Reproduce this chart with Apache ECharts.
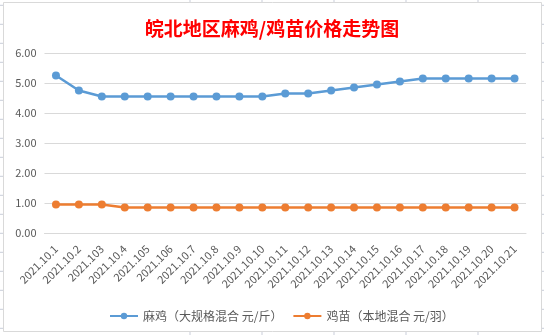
<!DOCTYPE html>
<html>
<head>
<meta charset="utf-8">
<script src="https://cdn.jsdelivr.net/npm/echarts@6/dist/echarts.min.js"></script>
<style>
html,body{margin:0;padding:0;background:#fff;}
#c{width:544px;height:335px;}
</style>
</head>
<body>
<div id="c"></div>
<script>
const categories = ['2021.10.1','2021.10.2','2021.103','2021.10.4','2021.105','2021.106','2021.10.7','2021.10.8','2021.10.9','2021.10.10','2021.10.11','2021.10.12','2021.10.13','2021.10.14','2021.10.15','2021.10.16','2021.10.17','2021.10.18','2021.10.19','2021.10.20','2021.10.21'];
const maJi = [5.25,4.75,4.55,4.55,4.55,4.55,4.55,4.55,4.55,4.55,4.65,4.65,4.75,4.85,4.95,5.05,5.15,5.15,5.15,5.15,5.15];
const jiMiao = [0.95,0.95,0.95,0.85,0.85,0.85,0.85,0.85,0.85,0.85,0.85,0.85,0.85,0.85,0.85,0.85,0.85,0.85,0.85,0.85,0.85];
const seriesNames = ['麻鸡（大规格混合 元/斤）','鸡苗（本地混合 元/羽）'];
const titleText = '皖北地区麻鸡/鸡苗价格走势图';

const FONT = '"Noto Sans CJK SC", sans-serif';
const sheetLine = '#c9cdd9';

// decorative spreadsheet gridline stubs and chart-area border
const deco = [];
for (let y = 5.3; y < 335; y += 19) {
  deco.push({type:'line', shape:{x1:0,y1:y,x2:3,y2:y}, style:{stroke:sheetLine,lineWidth:1}, silent:true});
  deco.push({type:'line', shape:{x1:542,y1:y,x2:544,y2:y}, style:{stroke:sheetLine,lineWidth:1}, silent:true});
}
[190,262,334,406,478].forEach(x => {
  deco.push({type:'line', shape:{x1:x,y1:0,x2:x,y2:2}, style:{stroke:sheetLine,lineWidth:1}, silent:true});
  deco.push({type:'line', shape:{x1:x,y1:332,x2:x,y2:335}, style:{stroke:sheetLine,lineWidth:1}, silent:true});
});
deco.push({type:'rect', shape:{x:3.5,y:2.5,width:538,height:329}, style:{fill:'none',stroke:'#d9d9d9',lineWidth:1}, silent:true, z:-1});

const chart = echarts.init(document.getElementById('c'), null, {renderer:'canvas'});
chart.setOption({
  animation:false,
  backgroundColor:'#fff',
  title:{
    text:titleText,
    left:'center',
    top:14,
    textStyle:{color:'#ff0000',fontSize:19,fontWeight:'bold',fontFamily:FONT}
  },
  graphic:deco,
  grid:{left:44.5,right:18,top:53,bottom:102,containLabel:false},
  legend:{
    left:104,
    top:305,
    itemWidth:28,
    itemHeight:8,
    itemGap:10,
    textStyle:{color:'#595959',fontSize:12,fontFamily:FONT},
    data:seriesNames
  },
  xAxis:{
    type:'category',
    data:categories,
    boundaryGap:true,
    axisLine:{show:true,lineStyle:{color:'#d9d9d9',width:1}},
    axisTick:{show:false},
    axisLabel:{rotate:45,interval:0,fontSize:11,color:'#595959',fontFamily:FONT,margin:14}
  },
  yAxis:{
    type:'value',
    min:0,max:6,interval:1,
    axisLine:{show:false},
    axisTick:{show:false},
    splitLine:{lineStyle:{color:'#d9d9d9',width:1}},
    axisLabel:{fontSize:11,color:'#595959',fontFamily:FONT,margin:8,formatter:v=>v.toFixed(2)}
  },
  series:[
    {name:seriesNames[0],type:'line',data:maJi,symbol:'circle',symbolSize:8,
     itemStyle:{color:'#5b9bd5'},lineStyle:{color:'#5b9bd5',width:2.5}},
    {name:seriesNames[1],type:'line',data:jiMiao,symbol:'circle',symbolSize:8,
     itemStyle:{color:'#ed7d31'},lineStyle:{color:'#ed7d31',width:2.5}}
  ]
});
</script>
</body>
</html>
